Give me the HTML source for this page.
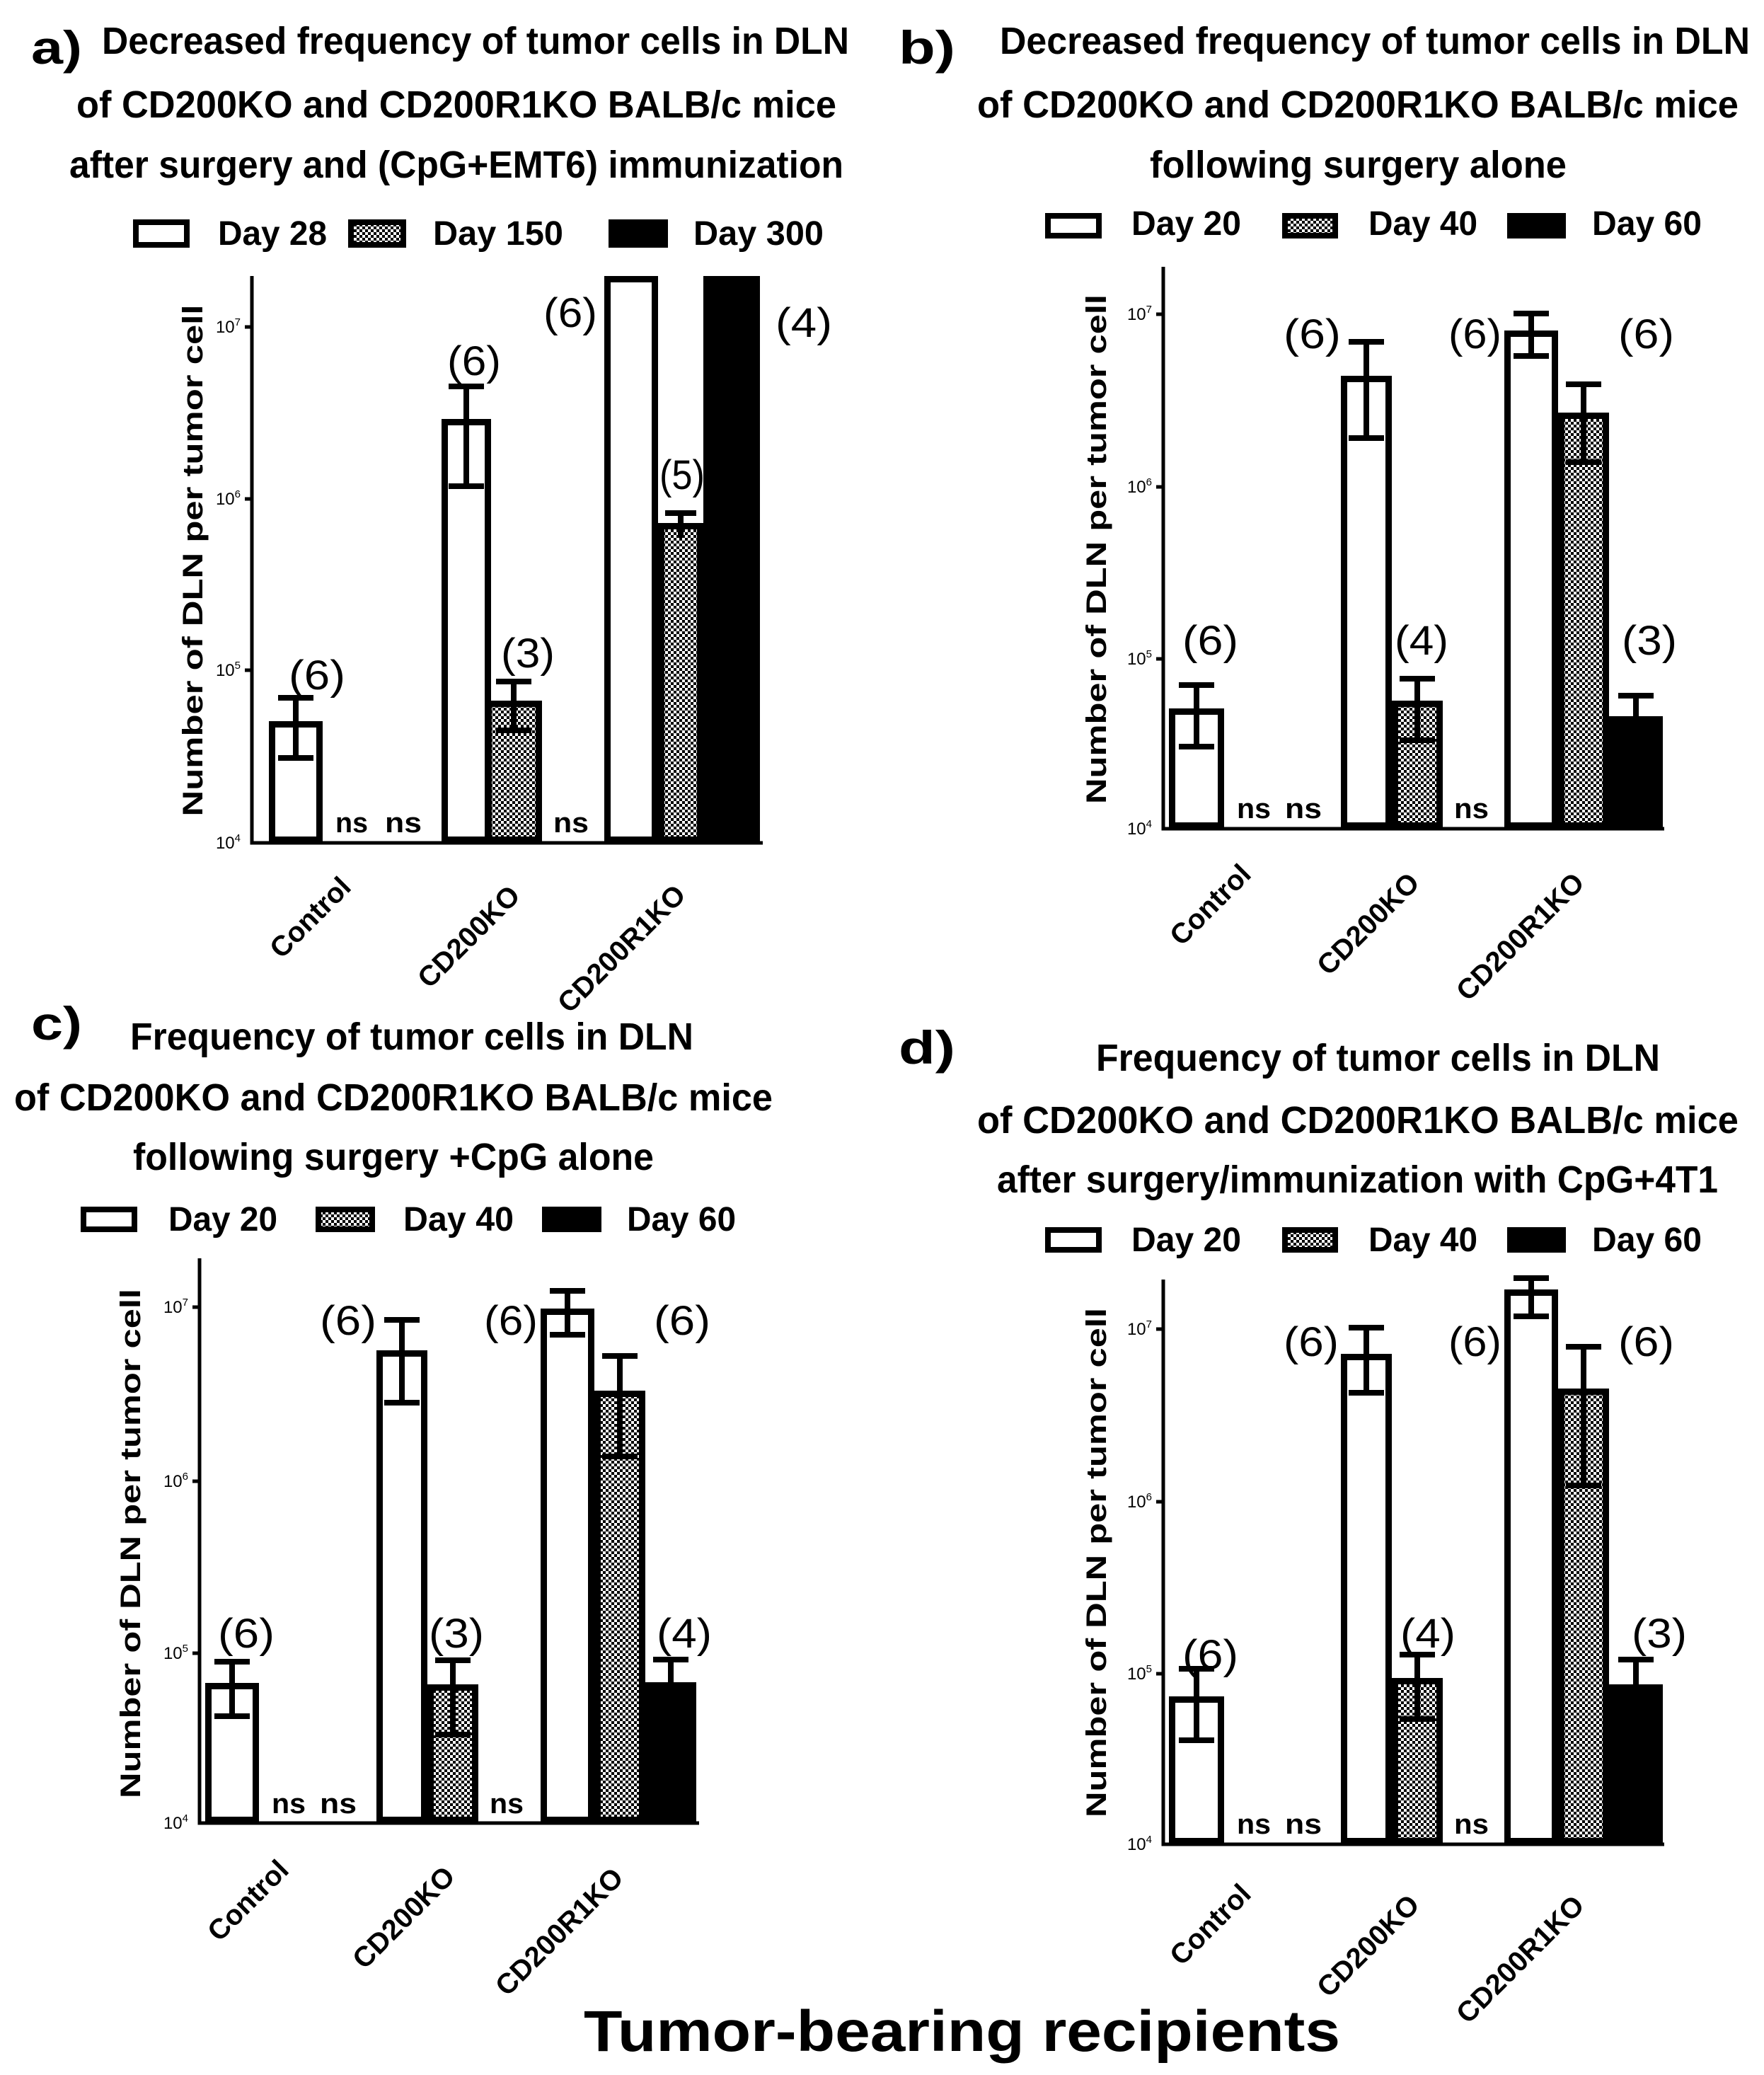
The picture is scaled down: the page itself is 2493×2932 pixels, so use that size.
<!DOCTYPE html>
<html><head><meta charset="utf-8"><style>
html,body{margin:0;padding:0;background:#fff}
svg{display:block}
text{font-family:"Liberation Sans",Arial,sans-serif}
.t{font-size:54px;font-weight:bold}
.pl{font-size:66px;font-weight:bold}
.lg{font-size:48px;font-weight:bold}
.an{font-size:58px}
.ns{font-size:40px;font-weight:bold}
.yl{font-size:40px;font-weight:bold}
.tk{font-size:24px}
.ct{font-size:40px;font-weight:bold}
</style></head><body>
<svg width="2493" height="2932" viewBox="0 0 2493 2932" xmlns="http://www.w3.org/2000/svg">
<defs>
<pattern id="h" width="8" height="8" patternUnits="userSpaceOnUse">
<rect width="8" height="8" fill="#fff"/><rect width="4" height="4" fill="#000"/><rect x="4" y="4" width="4" height="4" fill="#000"/>
</pattern>
</defs>
<g fill="none" stroke="#000" stroke-width="9">
<!-- Panel a -->
<rect x="384.5" y="1023.5" width="67" height="163" fill="#fff"/>
<rect x="628.5" y="596.5" width="61" height="590" fill="#fff"/>
<rect x="690.5" y="994.5" width="71" height="192" fill="url(#h)"/>
<rect x="858.5" y="394.5" width="67" height="792" fill="#fff"/>
<rect x="934.5" y="743.5" width="55" height="443" fill="url(#h)"/>
<rect x="994" y="390" width="80" height="801" fill="#000" stroke="none"/>
<!-- Panel b -->
<rect x="1656.5" y="1005.5" width="69" height="161" fill="#fff"/>
<rect x="1899.5" y="535.5" width="63" height="631" fill="#fff"/>
<rect x="1971.5" y="994.5" width="63" height="172" fill="url(#h)"/>
<rect x="2130.5" y="471.5" width="67" height="695" fill="#fff"/>
<rect x="2206.5" y="587.5" width="63" height="579" fill="url(#h)"/>
<rect x="2274" y="1012" width="76" height="159" fill="#000" stroke="none"/>
<!-- Panel c -->
<rect x="294.5" y="2382.5" width="67" height="189" fill="#fff"/>
<rect x="536.5" y="1912.5" width="63" height="659" fill="#fff"/>
<rect x="608.5" y="2384.5" width="63" height="187" fill="url(#h)"/>
<rect x="768.5" y="1853.5" width="67" height="718" fill="#fff"/>
<rect x="844.5" y="1969.5" width="63" height="602" fill="url(#h)"/>
<rect x="912" y="2377" width="72" height="199" fill="#000" stroke="none"/>
<!-- Panel d -->
<rect x="1656.5" y="2401.5" width="69" height="200" fill="#fff"/>
<rect x="1899.5" y="1917.5" width="63" height="684" fill="#fff"/>
<rect x="1971.5" y="2375.5" width="63" height="226" fill="url(#h)"/>
<rect x="2130.5" y="1826.5" width="67" height="775" fill="#fff"/>
<rect x="2206.5" y="1966.5" width="63" height="635" fill="url(#h)"/>
<rect x="2274" y="2380" width="76" height="226" fill="#000" stroke="none"/>
</g>
<!-- error bars -->
<g stroke="#000" stroke-width="8" fill="none">
<path d="M418 986V1071M393 986H443M393 1071H443"/>
<path d="M659 546V687M634 546H684M634 687H684"/>
<path d="M726 963V1032M701 963H751M701 1032H751"/>
<path d="M962 725V760M940 725H984"/>
<path d="M1691 968V1055M1666 968H1716M1666 1055H1716"/>
<path d="M1931 483V619M1906 483H1956M1906 619H1956"/>
<path d="M2003 959V1046M1978 959H2028M1978 1046H2028"/>
<path d="M2164 443V503M2139 443H2189M2139 503H2189"/>
<path d="M2238 543V653M2213 543H2263M2213 653H2263"/>
<path d="M2312 983V1012M2287 983H2337"/>
<path d="M328 2348V2425M303 2348H353M303 2425H353"/>
<path d="M568 1865V1982M543 1865H593M543 1982H593"/>
<path d="M640 2346V2451M615 2346H665M615 2451H665"/>
<path d="M802 1824V1886M777 1824H827M777 1886H827"/>
<path d="M876 1916V2058M851 1916H901M851 2058H901"/>
<path d="M948 2345V2377M923 2345H973"/>
<path d="M1691 2358V2459M1666 2358H1716M1666 2459H1716"/>
<path d="M1931 1876V1968M1906 1876H1956M1906 1968H1956"/>
<path d="M2003 2338V2429M1978 2338H2028M1978 2429H2028"/>
<path d="M2164 1806V1860M2139 1806H2189M2139 1860H2189"/>
<path d="M2238 1903V2099M2213 1903H2263M2213 2099H2263"/>
<path d="M2312 2345V2380M2287 2345H2337"/>
</g>
<!-- axes -->
<g stroke="#000" stroke-width="5" fill="none">
<path d="M356 390V1191H1078M346 462H356M346 705H356M346 947H356"/>
<path d="M1644 377V1171H2352M1634 444H1644M1634 688H1644M1634 931H1644"/>
<path d="M282 1778V2576H988M272 1847H282M272 2093H282M272 2336H282"/>
<path d="M1644 1808V2606H2352M1634 1878H1644M1634 2122H1644M1634 2365H1644"/>
</g>
<!-- tick labels -->
<g class="tk" text-anchor="end">
<text x="340" y="470">10<tspan dy="-10" font-size="15">7</tspan></text>
<text x="340" y="713">10<tspan dy="-10" font-size="15">6</tspan></text>
<text x="340" y="955">10<tspan dy="-10" font-size="15">5</tspan></text>
<text x="340" y="1199">10<tspan dy="-10" font-size="15">4</tspan></text>
<text x="1628" y="452">10<tspan dy="-10" font-size="15">7</tspan></text>
<text x="1628" y="696">10<tspan dy="-10" font-size="15">6</tspan></text>
<text x="1628" y="939">10<tspan dy="-10" font-size="15">5</tspan></text>
<text x="1628" y="1179">10<tspan dy="-10" font-size="15">4</tspan></text>
<text x="266" y="1855">10<tspan dy="-10" font-size="15">7</tspan></text>
<text x="266" y="2101">10<tspan dy="-10" font-size="15">6</tspan></text>
<text x="266" y="2344">10<tspan dy="-10" font-size="15">5</tspan></text>
<text x="266" y="2584">10<tspan dy="-10" font-size="15">4</tspan></text>
<text x="1628" y="1886">10<tspan dy="-10" font-size="15">7</tspan></text>
<text x="1628" y="2130">10<tspan dy="-10" font-size="15">6</tspan></text>
<text x="1628" y="2373">10<tspan dy="-10" font-size="15">5</tspan></text>
<text x="1628" y="2614">10<tspan dy="-10" font-size="15">4</tspan></text>
</g>
<!-- panel labels & titles -->
<text class="pl" x="44" y="90" textLength="72" lengthAdjust="spacingAndGlyphs">a)</text>
<text class="t" x="144" y="76" textLength="1056" lengthAdjust="spacingAndGlyphs">Decreased frequency of tumor cells in DLN</text>
<text class="t" x="108" y="166" textLength="1074" lengthAdjust="spacingAndGlyphs">of CD200KO and CD200R1KO BALB/c mice</text>
<text class="t" x="98" y="251" textLength="1094" lengthAdjust="spacingAndGlyphs">after surgery and (CpG+EMT6) immunization</text>
<text class="pl" x="1270" y="90" textLength="80" lengthAdjust="spacingAndGlyphs">b)</text>
<text class="t" x="1413" y="76" textLength="1060" lengthAdjust="spacingAndGlyphs">Decreased frequency of tumor cells in DLN</text>
<text class="t" x="1381" y="166" textLength="1076" lengthAdjust="spacingAndGlyphs">of CD200KO and CD200R1KO BALB/c mice</text>
<text class="t" x="1625" y="251" textLength="589" lengthAdjust="spacingAndGlyphs">following surgery alone</text>
<text class="pl" x="44" y="1469" textLength="72" lengthAdjust="spacingAndGlyphs">c)</text>
<text class="t" x="184" y="1483" textLength="796" lengthAdjust="spacingAndGlyphs">Frequency of tumor cells in DLN</text>
<text class="t" x="20" y="1569" textLength="1072" lengthAdjust="spacingAndGlyphs">of CD200KO and CD200R1KO BALB/c mice</text>
<text class="t" x="188" y="1653" textLength="736" lengthAdjust="spacingAndGlyphs">following surgery +CpG alone</text>
<text class="pl" x="1270" y="1503" textLength="80" lengthAdjust="spacingAndGlyphs">d)</text>
<text class="t" x="1549" y="1513" textLength="797" lengthAdjust="spacingAndGlyphs">Frequency of tumor cells in DLN</text>
<text class="t" x="1381" y="1601" textLength="1076" lengthAdjust="spacingAndGlyphs">of CD200KO and CD200R1KO BALB/c mice</text>
<text class="t" x="1409" y="1685" textLength="1019" lengthAdjust="spacingAndGlyphs">after surgery/immunization with CpG+4T1</text>
<!-- legends -->
<g stroke="#000" stroke-width="8">
<rect x="192" y="314" width="72" height="32" fill="#fff"/>
<rect x="496" y="314" width="74" height="32" fill="url(#h)"/>
<rect x="860" y="310" width="84" height="40" fill="#000" stroke="none"/>
<rect x="1481" y="305" width="72" height="28" fill="#fff"/>
<rect x="1816" y="305" width="71" height="28" fill="url(#h)"/>
<rect x="2130" y="301" width="83" height="36" fill="#000" stroke="none"/>
<rect x="118" y="1709" width="72" height="28" fill="#fff"/>
<rect x="450" y="1709" width="76" height="28" fill="url(#h)"/>
<rect x="766" y="1705" width="84" height="36" fill="#000" stroke="none"/>
<rect x="1481" y="1738" width="72" height="28" fill="#fff"/>
<rect x="1816" y="1738" width="71" height="28" fill="url(#h)"/>
<rect x="2130" y="1734" width="83" height="36" fill="#000" stroke="none"/>
</g>
<g class="lg">
<text x="308" y="346" textLength="154" lengthAdjust="spacingAndGlyphs">Day 28</text>
<text x="612" y="346" textLength="184" lengthAdjust="spacingAndGlyphs">Day 150</text>
<text x="980" y="346" textLength="184" lengthAdjust="spacingAndGlyphs">Day 300</text>
<text x="1599" y="332" textLength="155" lengthAdjust="spacingAndGlyphs">Day 20</text>
<text x="1934" y="332" textLength="154" lengthAdjust="spacingAndGlyphs">Day 40</text>
<text x="2250" y="332" textLength="155" lengthAdjust="spacingAndGlyphs">Day 60</text>
<text x="238" y="1739" textLength="154" lengthAdjust="spacingAndGlyphs">Day 20</text>
<text x="570" y="1739" textLength="156" lengthAdjust="spacingAndGlyphs">Day 40</text>
<text x="886" y="1739" textLength="154" lengthAdjust="spacingAndGlyphs">Day 60</text>
<text x="1599" y="1768" textLength="155" lengthAdjust="spacingAndGlyphs">Day 20</text>
<text x="1934" y="1768" textLength="154" lengthAdjust="spacingAndGlyphs">Day 40</text>
<text x="2250" y="1768" textLength="155" lengthAdjust="spacingAndGlyphs">Day 60</text>
</g>
<!-- annotations -->
<g class="an">
<text x="408" y="974" textLength="80" lengthAdjust="spacingAndGlyphs">(6)</text>
<text x="632" y="530" textLength="76" lengthAdjust="spacingAndGlyphs">(6)</text>
<text x="708" y="943" textLength="76" lengthAdjust="spacingAndGlyphs">(3)</text>
<text x="768" y="462" textLength="76" lengthAdjust="spacingAndGlyphs">(6)</text>
<text x="932" y="691" textLength="64" lengthAdjust="spacingAndGlyphs">(5)</text>
<text x="1096" y="476" textLength="80" lengthAdjust="spacingAndGlyphs">(4)</text>
<text x="1671" y="925" textLength="79" lengthAdjust="spacingAndGlyphs">(6)</text>
<text x="1814" y="492" textLength="81" lengthAdjust="spacingAndGlyphs">(6)</text>
<text x="1971" y="925" textLength="76" lengthAdjust="spacingAndGlyphs">(4)</text>
<text x="2047" y="492" textLength="75" lengthAdjust="spacingAndGlyphs">(6)</text>
<text x="2287" y="492" textLength="79" lengthAdjust="spacingAndGlyphs">(6)</text>
<text x="2292" y="925" textLength="78" lengthAdjust="spacingAndGlyphs">(3)</text>
<text x="308" y="2328" textLength="80" lengthAdjust="spacingAndGlyphs">(6)</text>
<text x="452" y="1886" textLength="80" lengthAdjust="spacingAndGlyphs">(6)</text>
<text x="606" y="2328" textLength="78" lengthAdjust="spacingAndGlyphs">(3)</text>
<text x="684" y="1886" textLength="76" lengthAdjust="spacingAndGlyphs">(6)</text>
<text x="924" y="1886" textLength="80" lengthAdjust="spacingAndGlyphs">(6)</text>
<text x="928" y="2328" textLength="78" lengthAdjust="spacingAndGlyphs">(4)</text>
<text x="1671" y="2358" textLength="79" lengthAdjust="spacingAndGlyphs">(6)</text>
<text x="1814" y="1916" textLength="78" lengthAdjust="spacingAndGlyphs">(6)</text>
<text x="1979" y="2328" textLength="78" lengthAdjust="spacingAndGlyphs">(4)</text>
<text x="2047" y="1916" textLength="75" lengthAdjust="spacingAndGlyphs">(6)</text>
<text x="2287" y="1916" textLength="79" lengthAdjust="spacingAndGlyphs">(6)</text>
<text x="2306" y="2328" textLength="78" lengthAdjust="spacingAndGlyphs">(3)</text>
</g>
<g class="ns">
<text x="474" y="1176" textLength="46" lengthAdjust="spacingAndGlyphs">ns</text>
<text x="544" y="1176" textLength="52" lengthAdjust="spacingAndGlyphs">ns</text>
<text x="782" y="1176" textLength="50" lengthAdjust="spacingAndGlyphs">ns</text>
<text x="1748" y="1156" textLength="48" lengthAdjust="spacingAndGlyphs">ns</text>
<text x="1816" y="1156" textLength="52" lengthAdjust="spacingAndGlyphs">ns</text>
<text x="2055" y="1156" textLength="49" lengthAdjust="spacingAndGlyphs">ns</text>
<text x="384" y="2562" textLength="48" lengthAdjust="spacingAndGlyphs">ns</text>
<text x="452" y="2562" textLength="52" lengthAdjust="spacingAndGlyphs">ns</text>
<text x="692" y="2562" textLength="48" lengthAdjust="spacingAndGlyphs">ns</text>
<text x="1748" y="2591" textLength="48" lengthAdjust="spacingAndGlyphs">ns</text>
<text x="1816" y="2591" textLength="52" lengthAdjust="spacingAndGlyphs">ns</text>
<text x="2055" y="2591" textLength="49" lengthAdjust="spacingAndGlyphs">ns</text>
</g>
<!-- y labels -->
<g class="yl" text-anchor="middle">
<text transform="translate(286,792) rotate(-90)" textLength="723" lengthAdjust="spacingAndGlyphs">Number of DLN per tumor cell</text>
<text transform="translate(1563,776) rotate(-90)" textLength="720" lengthAdjust="spacingAndGlyphs">Number of DLN per tumor cell</text>
<text transform="translate(198,2181) rotate(-90)" textLength="720" lengthAdjust="spacingAndGlyphs">Number of DLN per tumor cell</text>
<text transform="translate(1563,2208) rotate(-90)" textLength="720" lengthAdjust="spacingAndGlyphs">Number of DLN per tumor cell</text>
</g>
<!-- category labels -->
<g class="ct" text-anchor="middle">
<text transform="translate(448,1306) rotate(-45)">Control</text>
<text transform="translate(672,1333) rotate(-45)">CD200KO</text>
<text transform="translate(888,1350) rotate(-45)">CD200R1KO</text>
<text transform="translate(1720,1288) rotate(-45)">Control</text>
<text transform="translate(1943,1315) rotate(-45)">CD200KO</text>
<text transform="translate(2158,1333) rotate(-45)">CD200R1KO</text>
<text transform="translate(360,2695) rotate(-45)">Control</text>
<text transform="translate(580,2719) rotate(-45)">CD200KO</text>
<text transform="translate(800,2739) rotate(-45)">CD200R1KO</text>
<text transform="translate(1720,2729) rotate(-45)">Control</text>
<text transform="translate(1943,2759) rotate(-45)">CD200KO</text>
<text transform="translate(2158,2778) rotate(-45)">CD200R1KO</text>
</g>
<text x="825" y="2898" font-size="82" font-weight="bold" textLength="1069" lengthAdjust="spacingAndGlyphs">Tumor-bearing recipients</text>
</svg>
</body></html>
